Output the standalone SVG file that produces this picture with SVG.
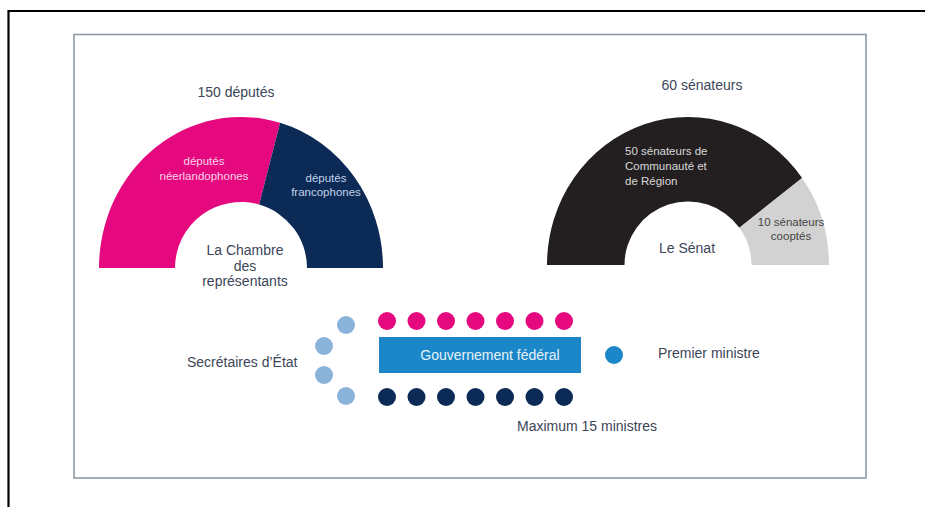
<svg xmlns="http://www.w3.org/2000/svg" width="925" height="507" viewBox="0 0 925 507">
<style>
.t{font-family:"Liberation Sans",Arial,sans-serif;font-size:14px;fill:#3b4658}
.s{font-family:"Liberation Sans",Arial,sans-serif;font-size:11.5px}
.c{text-anchor:middle}
.pink{fill:#e5087e}
.navy{fill:#0b2a55}
.lb{fill:#8ab3da}
.blue{fill:#1b87c8}
</style>
<rect width="925" height="507" fill="#fff"/>
<path d="M8.5,507 V11 H925" fill="none" stroke="#000" stroke-width="2.2"/>
<rect x="74" y="34.5" width="792" height="443.5" fill="#fff" stroke="#8e99a6" stroke-width="1.6"/>
<g id="chambre">
<text class="t c" x="236" y="97">150 députés</text>
<path class="pink" d="M99,268 A142,151 0 0 1 280.1,122.8 L259.2,204.6 A66,66 0 0 0 175,268 Z"/>
<path class="navy" d="M280.1,122.8 A142,151 0 0 1 383,268 L307,268 A66,66 0 0 0 259.2,204.6 Z"/>
<text class="s c" x="204" y="165" fill="#fbd3e8">députés</text>
<text class="s c" x="204" y="180" fill="#fbd3e8">néerlandophones</text>
<text class="s c" x="326" y="182" fill="#c4d3ea">députés</text>
<text class="s c" x="326" y="196" fill="#c4d3ea">francophones</text>
<text class="t c" x="245" y="255">La Chambre</text>
<text class="t c" x="245" y="271">des</text>
<text class="t c" x="245" y="286">représentants</text>
</g>
<g id="senat">
<text class="t c" x="702" y="90">60 sénateurs</text>
<path fill="#231f20" d="M547,265 A141,148 0 0 1 802.1,178 L739.4,227.7 A63.5,63.5 0 0 0 624.5,265 Z"/>
<path fill="#d2d2d2" d="M802.1,178 A141,148 0 0 1 829,265 L751.5,265 A63.5,63.5 0 0 0 739.4,227.7 Z"/>
<text class="s" x="625" y="155" fill="#d9d9d9">50 sénateurs de</text>
<text class="s" x="625" y="170" fill="#d9d9d9">Communauté et</text>
<text class="s" x="625" y="185" fill="#d9d9d9">de Région</text>
<text class="s c" x="791" y="226" fill="#444">10 sénateurs</text>
<text class="s c" x="791" y="240" fill="#444">cooptés</text>
<text class="t c" x="687" y="253" fill="#444">Le Sénat</text>
</g>
<g id="gouvernement">
<rect class="blue" x="379" y="337" width="202" height="36"/>
<text class="t c" x="490" y="360" fill="#e6f2fb" style="fill:#e6f2fb">Gouvernement fédéral</text>
</g>
<g id="ministres-haut">
<circle class="pink" cx="387" cy="321" r="9"/>
<circle class="pink" cx="416.5" cy="321" r="9"/>
<circle class="pink" cx="446" cy="321" r="9"/>
<circle class="pink" cx="475.5" cy="321" r="9"/>
<circle class="pink" cx="505" cy="321" r="9"/>
<circle class="pink" cx="534.5" cy="321" r="9"/>
<circle class="pink" cx="564" cy="321" r="9"/>
</g>
<g id="ministres-bas">
<circle class="navy" cx="387" cy="397" r="9"/>
<circle class="navy" cx="416.5" cy="397" r="9"/>
<circle class="navy" cx="446" cy="397" r="9"/>
<circle class="navy" cx="475.5" cy="397" r="9"/>
<circle class="navy" cx="505" cy="397" r="9"/>
<circle class="navy" cx="534.5" cy="397" r="9"/>
<circle class="navy" cx="564" cy="397" r="9"/>
<text class="t" x="517" y="431">Maximum 15 ministres</text>
</g>
<g id="secretaires">
<circle class="lb" cx="346" cy="325" r="9"/>
<circle class="lb" cx="324" cy="346" r="9"/>
<circle class="lb" cx="324" cy="375" r="9"/>
<circle class="lb" cx="346" cy="396" r="9"/>
<text class="t" x="187" y="367">Secrétaires d’État</text>
</g>
<g id="premier">
<circle class="blue" cx="614" cy="355" r="9"/>
<text class="t" x="658" y="358">Premier ministre</text>
</g>
<g id="connectors"/>
</svg>
